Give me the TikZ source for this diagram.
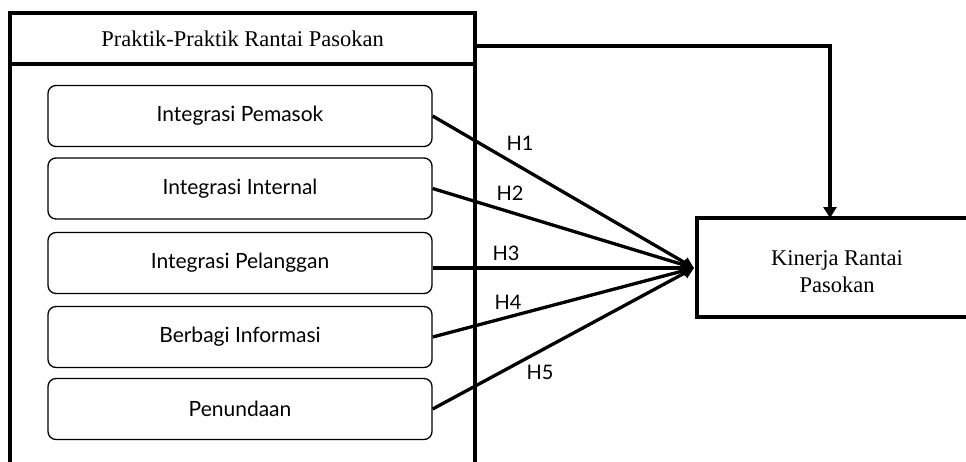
\documentclass[tikz,border=0pt]{standalone}
\usepackage{fontspec}
\setmainfont{Liberation Serif}
\newfontfamily\labelfont{Lato}
\usetikzlibrary{arrows.meta}
\begin{document}
\begin{tikzpicture}[x=1pt,y=-1pt,
  thick line/.style={line width=3.3pt},
  itembox/.style={draw, line width=1.3pt, rounded corners=8pt,
    minimum width=384pt, minimum height=61pt, inner sep=0pt,
    font=\labelfont\fontsize{21}{24}\selectfont},
  hyp/.style={thick line, -{Triangle[length=11pt,width=11pt]}},
  hlabel/.style={font=\labelfont\fontsize{20}{23}\selectfont, inner sep=0pt},
  headtext/.style={font=\fontsize{22.5}{27}\selectfont, inner sep=0pt}]
\useasboundingbox (0,0) rectangle (966,461);

% left panel with its header
\draw[thick line] (10,462) -- (10,13) -- (475,13) -- (475,462);
\draw[thick line] (10,64) -- (475,64);
\node[headtext] (hdr) at (242.5,38.5) {Praktik-Praktik Rantai Pasokan};
\coordinate (panelout) at (475,46);

% the five practices
\node[itembox] (b1) at (240,116) {Integrasi Pemasok};
\node[itembox] (b2) at (240,188.5) {Integrasi Internal};
\node[itembox] (b3) at (240,263) {Integrasi Pelanggan};
\node[itembox] (b4) at (240,337) {Berbagi Informasi};
\node[itembox] (b5) at (240,409) {Penundaan};

% outcome box, open to the right
\draw[thick line] (967,218) -- (697,218) -- (697,317) -- (967,317);
\node[headtext, align=center] (kin) at (837,271.5) {Kinerja Rantai\\Pasokan};
\coordinate (kinin) at (694,268);
\coordinate (kintop) at (830,218);

% hypotheses
\draw[hyp] (b1.east) -- (kinin);
\draw[hyp] (b2.east) -- (kinin);
\draw[hyp] (b3.east |- kinin) -- (kinin);
\draw[hyp] (b4.east) -- (kinin);
\draw[hyp] (b5.east) -- (kinin);
\draw[thick line, -{Triangle[length=11pt,width=13pt]}] (panelout) -| (kintop);

\node[hlabel] (h1) at (520,143) {H1};
\node[hlabel] (h2) at (510,193) {H2};
\node[hlabel] (h3) at (506,253) {H3};
\node[hlabel] (h4) at (508,302) {H4};
\node[hlabel] (h5) at (540,372) {H5};
\end{tikzpicture}
\end{document}
